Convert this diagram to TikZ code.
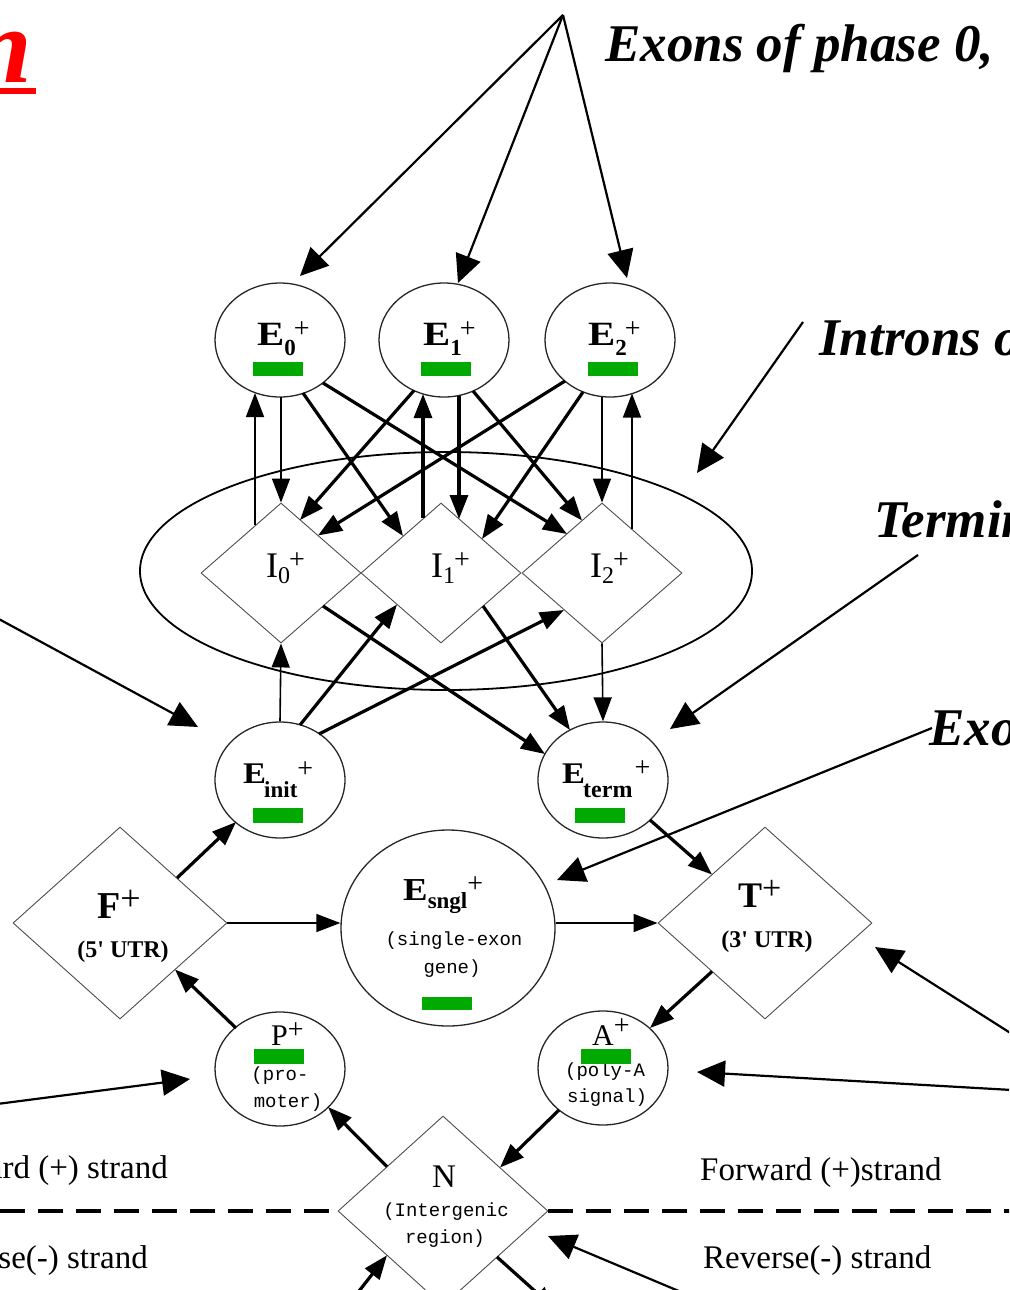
\documentclass[tikz,border=0pt]{standalone}
\usepackage{fontspec}
\setmainfont{Liberation Serif}
\newfontfamily\monof{Liberation Mono}
\usetikzlibrary{shapes.geometric,arrows.meta,calc}
\definecolor{gbar}{RGB}{0,170,0}
\definecolor{ttlred}{RGB}{255,0,0}
\newcommand{\sbx}[3]{\raisebox{#1}{\fontsize{#2}{#2}\selectfont #3}}
\newcommand{\fsz}[1]{\fontsize{#1}{#1}\selectfont}
\begin{document}
\begin{tikzpicture}[x=1pt,y=-1pt,
  exon/.style={ellipse, draw=black!85, line width=1.3pt, minimum width=130pt, minimum height=114pt, inner sep=0pt},
  dia/.style={diamond, draw=black!70, line width=0.9pt, inner sep=0pt},
  thk/.style={line width=3.2pt, -{Triangle[length=24pt,width=18pt]}},
  thn/.style={line width=1.6pt, -{Triangle[length=24pt,width=18pt]}},
  ann/.style={line width=2.2pt, -{Triangle[length=28pt,width=26pt]}},
  gb/.style={fill=gbar, draw=none, minimum width=50pt, minimum height=14pt, inner sep=0pt},
  lab/.style={inner sep=0pt, anchor=base west},
  sub/.style={inner sep=0pt, anchor=base, font=\monof\fsz{19pt}},
  note/.style={inner sep=0pt, anchor=base west, font=\fsz{53pt}\bfseries\itshape},
  strand/.style={inner sep=0pt, font=\fsz{33pt}},
  strandline/.style={line width=4pt, dash pattern=on 25pt off 13pt}
]
\useasboundingbox (0,0) rectangle (1009,1290);
\clip (0,0) rectangle (1009,1290);

% ---- title remnant
\node[inner sep=0pt, anchor=base east, text=ttlred, font=\fsz{107pt}\bfseries\itshape] (ttl) at (32,82) {n};
\node[fill=ttlred, draw=none, inner sep=0pt, minimum width=36pt, minimum height=6pt, anchor=north west] (ttlul) at (0,88) {};

% ---- state nodes
\node[exon] (E0) at (280,340) {};
\node[exon] (E1) at (444,340) {};
\node[exon] (E2) at (610,340) {};
\node[dia, minimum width=160pt, minimum height=140pt] (I0) at (281,573) {};
\node[dia, minimum width=160pt, minimum height=140pt] (I1) at (441,573) {};
\node[dia, minimum width=160pt, minimum height=140pt] (I2) at (602,573) {};
\node[ellipse, draw=black, line width=1.8pt, minimum width=612pt, minimum height=238pt, inner sep=0pt] (IE) at (446,571) {};
\node[exon, minimum height=116pt] (Ei) at (280,780) {};
\node[exon, minimum height=116pt] (Et) at (603,780) {};
\node[exon, minimum width=214pt, minimum height=196pt] (Es) at (448,928) {};
\node[dia, minimum width=214pt, minimum height=192pt] (F) at (120,923) {};
\node[dia, minimum width=214pt, minimum height=192pt] (T) at (765,923) {};
\node[exon] (P) at (280,1069) {};
\node[exon] (A) at (603,1068) {};
\node[dia, minimum width=210pt, minimum height=190pt] (N) at (443,1211) {};

% ---- labels
\node[lab] (lE0) at (257,345) {\scalebox{1.2}[1]{\fsz{34pt}\bfseries E}\sbx{-10pt}{23pt}{\bfseries 0}\kern-2pt\sbx{8pt}{28pt}{+}};
\node[lab] (lE1) at (423,345) {\scalebox{1.2}[1]{\fsz{34pt}\bfseries E}\sbx{-10pt}{23pt}{\bfseries 1}\kern-2pt\sbx{8pt}{28pt}{+}};
\node[lab] (lE2) at (588,345) {\scalebox{1.2}[1]{\fsz{34pt}\bfseries E}\sbx{-10pt}{23pt}{\bfseries 2}\kern-2pt\sbx{8pt}{28pt}{+}};
\node[gb] (g0) at (278,369) {};
\node[gb] (g1) at (446,369) {};
\node[gb] (g2) at (613,369) {};

\node[lab] (lI0) at (266,577) {\fsz{36pt}I\sbx{-6pt}{24pt}{0}\kern-1pt\sbx{9pt}{28pt}{+}};
\node[lab] (lI1) at (431,577) {\fsz{36pt}I\sbx{-6pt}{24pt}{1}\kern-1pt\sbx{9pt}{28pt}{+}};
\node[lab] (lI2) at (590,577) {\fsz{36pt}I\sbx{-6pt}{24pt}{2}\kern-1pt\sbx{9pt}{28pt}{+}};

\node[lab] (lEi) at (243,783) {\scalebox{1.15}[1]{\fsz{30pt}\bfseries E}\kern-2pt\sbx{-14pt}{23pt}{\bfseries init}\sbx{6pt}{28pt}{+}};
\node[lab] (lEt) at (562,783) {\scalebox{1.15}[1]{\fsz{30pt}\bfseries E}\kern-2pt\sbx{-14pt}{24pt}{\bfseries term}\kern2pt\sbx{7pt}{28pt}{+}};
\node[gb, minimum height=15pt] (gi) at (278,815) {};
\node[gb, minimum height=15pt] (gt) at (600,815) {};

\node[lab] (lEs) at (403,900) {\scalebox{1.15}[1]{\fsz{32pt}\bfseries E}\sbx{-8pt}{23pt}{\bfseries sngl}\sbx{8pt}{28pt}{+}};
\node[sub] (sEs1) at (454,945) {(single-exon};
\node[sub] (sEs2) at (452,973) {gene)};
\node[gb, minimum height=13pt] (gs) at (447,1003) {};

\node[lab] (lF) at (97,918) {\fsz{38pt}\bfseries F\sbx{8pt}{36pt}{\mdseries +}};
\node[inner sep=0pt, anchor=base, font=\fsz{24pt}\bfseries] (sF) at (123,957) {(5\textquotesingle{} UTR)};
\node[lab] (lT) at (738,907) {\fsz{36pt}\bfseries T\sbx{8pt}{34pt}{\mdseries +}};
\node[inner sep=0pt, anchor=base, font=\fsz{24pt}\bfseries] (sT) at (767,947) {(3\textquotesingle{} UTR)};

\node[lab] (lP) at (271,1045) {\fsz{30pt}P\sbx{7pt}{28pt}{+}};
\node[sub] (sP1) at (280,1080) {(pro-};
\node[sub] (sP2) at (288,1107) {moter)};
\node[gb, minimum height=15pt] (gp) at (279,1056) {};

\node[lab] (lA) at (592,1045) {\fsz{30pt}A\sbx{11pt}{28pt}{+}};
\node[sub] (sA1) at (605,1076) {(poly-A};
\node[sub] (sA2) at (607,1102) {signal)};
\node[gb, minimum height=15pt] (ga) at (606,1056) {};

\node[lab] (lN) at (432,1187) {\fsz{33pt}N};
\node[sub] (sN1) at (446,1216) {(Intergenic};
\node[sub] (sN2) at (445,1243) {region)};

% ---- strand labels and line
\node[strand, anchor=base west] (fw) at (700,1180) {Forward (+)strand};
\node[strand, anchor=base west] (rv) at (703,1268) {Reverse(-) strand};
\node[strand, anchor=base east] (fwl) at (168,1178) {Forward (+) strand};
\node[strand, anchor=base east] (rvl) at (148,1268) {Reverse(-) strand};
\coordinate (dl) at (0,1211);
\coordinate (dr) at (1012,1211);
\draw[strandline] (dl) -- (N.west);
\draw[strandline] (N.east) -- (dr);

% ---- annotation texts
\node[note] (t1) at (605,62) {Exons of phase 0,};
\node[note] (t2) at (819,355) {Introns of};
\node[note] (t3) at (874,537) {Terminal};
\node[note] (t4) at (929,745) {Exon};

% ---- exon <-> intron connectors
\draw[thn] ([shift={(-26,-48)}]I0.center) -- ([shift={(-25,53)}]E0.center);
\draw[thn] ([shift={(1,57)}]E0.center) -- (I0.north);
\draw[thk] ([shift={(-18,-55)}]I1.center) -- ([shift={(-21,54)}]E1.center);
\draw[thk] ([shift={(15,55.5)}]E1.center) -- ([shift={(18,-54)}]I1.center);
\draw[thn] ([shift={(-8,56.5)}]E2.center) -- (I2.north);
\draw[thn] ([shift={(30,-44)}]I2.center) -- ([shift={(22,53.5)}]E2.center);
\draw[thk] ([shift={(23,53)}]E0.center) -- ([shift={(-38,-37)}]I1.center);
\draw[thk] ([shift={(43,43)}]E0.center) -- ([shift={(-35,-39)}]I2.center);
\draw[thk] ([shift={(-30,50.5)}]E1.center) -- ([shift={(19,-53)}]I0.center);
\draw[thk] ([shift={(29,51)}]E1.center) -- ([shift={(-20,-52.5)}]I2.center);
\draw[thk] ([shift={(-45,41)}]E2.center) -- ([shift={(37,-37.5)}]I0.center);
\draw[thk] ([shift={(-27,52)}]E2.center) -- ([shift={(41,-34)}]I1.center);

% ---- lower connectors
\draw[thn] (Ei.north) -- (I0.south);
\draw[thk] ([shift={(20,-55)}]Ei.center) -- ([shift={(-44,31.5)}]I1.center);
\draw[thk] ([shift={(39,-46)}]Ei.center) -- ([shift={(-38,37)}]I2.center);
\draw[thk] ([shift={(42,33)}]I0.center) -- ([shift={(-58,-26)}]Et.center);
\draw[thk] ([shift={(42,33)}]I1.center) -- ([shift={(-33,-50)}]Et.center);
\draw[thn] (I2.south) -- (Et.north);
\draw[thk] ([shift={(57,-45)}]F.center) -- ([shift={(-44,42)}]Ei.center);
\draw[thn] (F.east) -- (F.east -| Es.west);
\draw[thk] ([shift={(-44,-41)}]P.center) -- ([shift={(55,46.5)}]F.center);
\draw[thk] ([shift={(47,40)}]Et.center) -- ([shift={(-53,-48.5)}]T.center);
\draw[thn] (Es.east |- T.west) -- (T.west);
\draw[thk] ([shift={(-53,48.5)}]T.center) -- ([shift={(47,-40)}]A.center);
\draw[thk] ([shift={(-44,42)}]A.center) -- ([shift={(57,-43.5)}]N.center);
\draw[thk] ([shift={(-56,-44.3)}]N.center) -- ([shift={(48,38)}]P.center);
\coordinate (nb1) at (352,1300);
\coordinate (nb2) at (556,1310);
\draw[thk] (nb1) -- ([shift={(-56,44.3)}]N.center);
\draw[thk] ([shift={(54,46)}]N.center) -- (nb2);

% ---- annotation arrows
\coordinate (a0) at (563,15);
\draw[ann] (a0) -- ([shift={(20,-64)}]E0.center);
\draw[ann] (a0) -- ([shift={(14,-57)}]E1.center);
\draw[ann] (a0) -- ([shift={(17,-62)}]E2.center);
\coordinate (a2) at (803,322);
\draw[ann] (a2) -- ([shift={(251,-98)}]IE.center);
\coordinate (a3) at (918,555);
\draw[ann] (a3) -- ([shift={(67,-51)}]Et.center);
\coordinate (a4) at (932,728);
\draw[ann] (a4) -- ([shift={(109,-48)}]Es.center);
\coordinate (a5) at (1012,1034);
\draw[ann] (a5) -- ([shift={(110,24)}]T.center);
\coordinate (a6) at (1012,1090);
\draw[ann] (a6) -- ([shift={(94,4)}]A.center);
\coordinate (a7) at (-3,618);
\draw[ann] (a7) -- ([shift={(-82,-53)}]Ei.center);
\coordinate (a8) at (-3,1104);
\draw[ann] (a8) -- ([shift={(-90,10)}]P.center);
\coordinate (a9) at (693,1297);
\draw[ann] (a9) -- ([shift={(105,25)}]N.center);
\end{tikzpicture}
\end{document}
